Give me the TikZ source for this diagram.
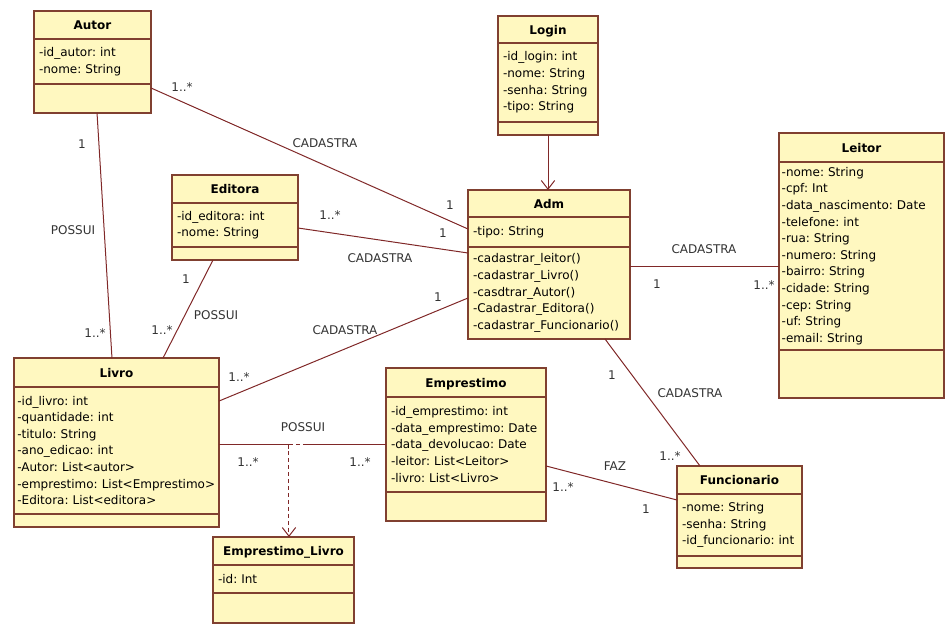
\documentclass[tikz,border=0pt]{standalone}
\usepackage{fontspec}
\setmainfont{DejaVu Sans}
\usetikzlibrary{positioning,arrows.meta}
\definecolor{clsfill}{RGB}{255,248,192}
\definecolor{clsline}{RGB}{128,64,48}
\definecolor{assocline}{RGB}{128,40,40}
\frenchspacing

\begin{document}
\begin{tikzpicture}[x=0.75pt,y=-0.75pt,
 box/.style ={draw=clsline,fill=clsfill,line width=1pt,outer sep=0pt,inner ysep=0pt,font=\fontsize{9}{12.45}\selectfont},
 title/.style ={box,font=\fontsize{9}{12.45}\selectfont\bfseries,text height=6.8pt,text depth=0pt,anchor=north west},
 attr/.style ={box,align=left,inner xsep=3.75pt},
 assoc/.style ={-,draw=assocline,line width=0.75pt},
 navig/.style ={assoc,-{Straight Barb[length=6.5pt,width=10pt]}},
 dep/.style ={navig,dash pattern=on 3pt off 2.2pt},
 mult/.style ={font=\fontsize{9}{11}\selectfont,text=black!80,inner sep=0pt}
 ]
\useasboundingbox (0,0) rectangle (945,628);

%draw class Autor
\node[title,minimum width=87.75pt,minimum height=21pt] (autor) at (34,11) {Autor};
\node[attr,text width=80.25pt,minimum height=33.75pt,below=0pt of autor] (autor-a) {-id\_autor: int\\-nome: String};
\node[attr,text width=80.25pt,minimum height=21.75pt,below=0pt of autor-a] (autor-o) {};
%draw class Login
\node[title,minimum width=75pt,minimum height=20.25pt] (login) at (498,16) {Login};
\node[attr,text width=67.5pt,minimum height=59.25pt,below=0pt of login] (login-a) {-id\_login: int\\-nome: String\\-senha: String\\-tipo: String};
\node[attr,text width=67.5pt,minimum height=9.75pt,below=0pt of login-a] (login-o) {};
%draw class Adm
\node[title,minimum width=121.5pt,minimum height=20.25pt] (adm) at (468,190) {Adm};
\node[attr,text width=114pt,minimum height=22.5pt,below=0pt of adm] (adm-a) {-tipo: String};
\node[attr,text width=114pt,minimum height=69pt,below=0pt of adm-a] (adm-o) {-cadastrar\_leitor()\\-cadastrar\_Livro()\\-casdtrar\_Autor()\\-Cadastrar\_Editora()\\-cadastrar\_Funcionario()};
%draw class Leitor
\node[title,minimum width=123.75pt,minimum height=21.75pt] (leitor) at (779,133) {Leitor};
\node[attr,inner xsep=2pt,text width=119.75pt,minimum height=141pt,below=0pt of leitor] (leitor-a) {-nome: String\\-cpf: Int\\-data\_nascimento: Date\\-telefone: int\\-rua: String\\-numero: String\\-bairro: String\\-cidade: String\\-cep: String\\-uf: String\\-email: String};
\node[attr,text width=116.25pt,minimum height=36pt,below=0pt of leitor-a] (leitor-o) {};
%draw class Editora
\node[title,minimum width=94.5pt,minimum height=21pt] (editora) at (172,175) {Editora};
\node[attr,text width=87pt,minimum height=33pt,below=0pt of editora] (editora-a) {-id\_editora: int\\-nome: String};
\node[attr,text width=87pt,minimum height=9.75pt,below=0pt of editora-a] (editora-o) {};
%draw class Livro
\node[title,minimum width=153.75pt,minimum height=21.75pt] (livro) at (14,358) {Livro};
\node[attr,inner xsep=2.5pt,text width=148.75pt,minimum height=95.25pt,below=0pt of livro] (livro-a) {-id\_livro: int\\-quantidade: int\\-titulo: String\\-ano\_edicao: int\\-Autor: List<autor>\\-emprestimo:~List<Emprestimo>\\-Editora: List<editora>};
\node[attr,text width=146.25pt,minimum height=9.75pt,below=0pt of livro-a] (livro-o) {};
%draw class Emprestimo_Livro
\node[title,minimum width=105.75pt,minimum height=21pt] (emplivro) at (213,537) {Emprestimo\_Livro};
\node[attr,text width=98.25pt,minimum height=21pt,below=0pt of emplivro] (emplivro-a) {-id: Int};
\node[attr,text width=98.25pt,minimum height=22.5pt,below=0pt of emplivro-a] (emplivro-o) {};
%draw class Emprestimo
\node[title,minimum width=120pt,minimum height=21.75pt] (emprestimo) at (386,368) {Emprestimo};
\node[attr,text width=112.5pt,minimum height=71.25pt,below=0pt of emprestimo] (emprestimo-a) {-id\_emprestimo: int\\-data\_emprestimo: Date\\-data\_devolucao: Date\\-leitor: List<Leitor>\\-livro: List<Livro>};
\node[attr,text width=112.5pt,minimum height=21.75pt,below=0pt of emprestimo-a] (emprestimo-o) {};
%draw class Funcionario
\node[title,minimum width=93.75pt,minimum height=21pt] (funcionario) at (677,466) {Funcionario};
\node[attr,text width=86.25pt,minimum height=46.5pt,below=0pt of funcionario] (funcionario-a) {-nome: String\\-senha: String\\-id\_funcionario: int};
\node[attr,text width=86.25pt,minimum height=9pt,below=0pt of funcionario-a] (funcionario-o) {};

%draw association Autor - Livro
\draw[assoc] ([xshift=3.4pt]autor-o.south) -- ([xshift=-3.4pt]livro.north)
 node[mult] (al-a) at (82,144) {1}
 node[mult] (al-r) at (73,230) {POSSUI}
 node[mult] (al-b) at (95,333) {1..*};
%draw association Autor - Adm
\draw[assoc] ([yshift=7.9pt]autor-o.east) -- ([yshift=2.25pt]adm-a.west)
 node[mult] (aa-a) at (182,87) {1..*}
 node[mult] (aa-r) at (325,143) {CADASTRA}
 node[mult] (aa-b) at (450,205) {1};
%draw association Editora - Adm
\draw[assoc] ([yshift=-2.25pt]editora-a.east) -- ([yshift=30pt]adm-o.west)
 node[mult] (ea-a) at (330,215) {1..*}
 node[mult] (ea-r) at (380,258) {CADASTRA}
 node[mult] (ea-b) at (443,233) {1};
%draw association Editora - Livro
\draw[assoc] ([xshift=-16.5pt]editora-o.south) -- ([xshift=34.9pt]livro.north)
 node[mult] (el-a) at (186,279) {1}
 node[mult] (el-r) at (216,315) {POSSUI}
 node[mult] (el-b) at (162,330) {1..*};
%draw association Livro - Adm
\draw[assoc] ([yshift=37.1pt]livro-a.east) -- ([yshift=-3.75pt]adm-o.west)
 node[mult] (la-a) at (239,377) {1..*}
 node[mult] (la-r) at (345,330) {CADASTRA}
 node[mult] (la-b) at (438,297) {1};
%draw navigation Login -> Adm
\draw[navig] (login-o.south) -- (login-o.south |- adm.north);
%draw association Adm - Leitor
\draw[assoc] ([yshift=20.25pt]adm-o.east) -- ([yshift=20.25pt]adm-o.east -| leitor-a.west)
 node[mult] (ar-r) at (704,249) {CADASTRA}
 node[mult] (ar-a) at (657,284) {1}
 node[mult] (ar-b) at (764,285) {1..*};
%draw association Adm - Funcionario
\draw[assoc] ([xshift=42pt]adm-o.south) -- ([xshift=-29.6pt]funcionario.north)
 node[mult] (af-a) at (612,375) {1}
 node[mult] (af-r) at (690,393) {CADASTRA}
 node[mult] (af-b) at (670,456) {1..*};
%draw association Livro - Emprestimo, class Emprestimo_Livro
\coordinate (possui) at ([xshift=4.1pt]emplivro.north |- emprestimo-a.west);
\draw[assoc] (livro-a.east |- possui) -- (possui)
 node[mult] (le-a) at (248,462) {1..*}
 node[mult] (le-r) at (303,427) {POSSUI};
\draw[assoc,dash pattern=on 3pt off 2.2pt] (possui) -- ++(16,0) coordinate (possui2);
\draw[assoc] (possui2) -- (possui2 -| emprestimo-a.west)
 node[mult] (le-b) at (360,462) {1..*};
\draw[dep] (possui) -- (possui |- emplivro.north);
%draw association Emprestimo - Funcionario
\draw[assoc] ([yshift=-16.1pt]emprestimo-a.east) -- ([yshift=18.75pt]funcionario-a.west)
 node[mult] (ef-r) at (615,466) {FAZ}
 node[mult] (ef-a) at (563,487) {1..*}
 node[mult] (ef-b) at (646,509) {1};
\end{tikzpicture}
\end{document}
